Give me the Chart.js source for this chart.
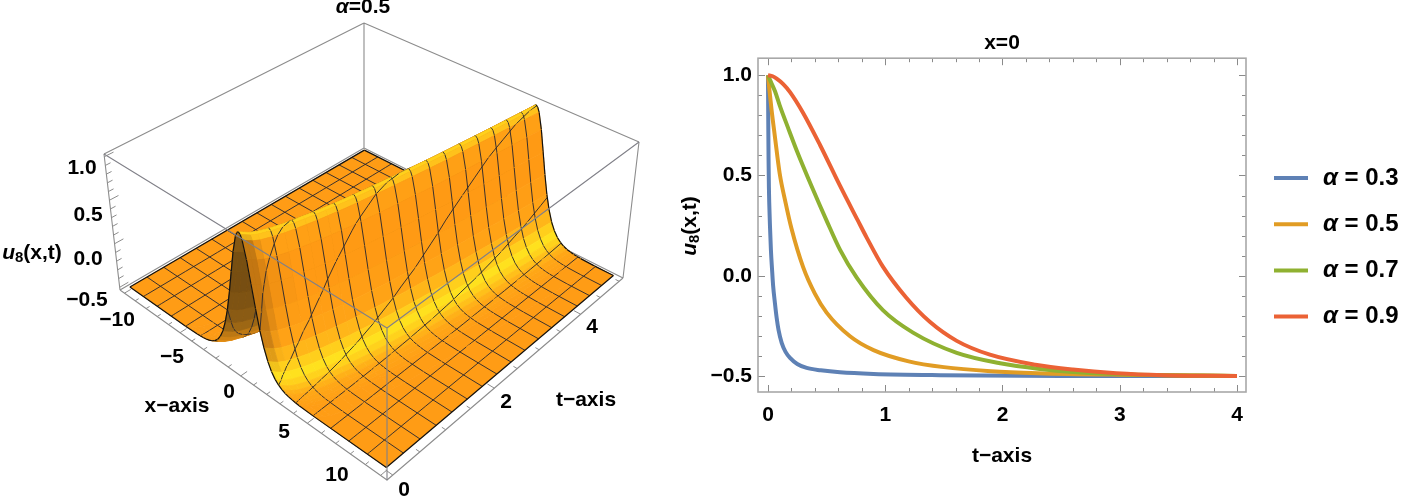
<!DOCTYPE html>
<html lang="en">
<head>
    <meta charset="UTF-8">
    <title>u8(x,t)</title>
    <script src="https://cdn.jsdelivr.net/npm/chart.js"></script>
    <style>
        body { margin: 0; background: #fff; }
        #surfaceChart { position: absolute; left: 0; top: 0; }
        #lineChart { position: absolute; left: 660px; top: 0; }
    </style>
</head>
<body>
    <canvas id="surfaceChart" width="660" height="499"></canvas>
    <canvas id="lineChart" width="741" height="499"></canvas>
    <script>
        // Right panel: curves
        var seriesNames = ['0.3', '0.5', '0.7', '0.9'];
        var seriesColors = ['#5E81B5', '#E19C24', '#8FB131', '#EB6235'];
        var t03 = [0, 0.003, 0.005, 0.008, 0.011, 0.017, 0.025, 0.035, 0.044, 0.06, 0.074, 0.09, 0.117, 0.15, 0.188, 0.25, 0.33, 0.45, 0.614, 0.9, 1.47, 2.5, 4];
        var u03 = [1, 0.73, 0.58, 0.44, 0.36, 0.25, 0.13, 0.03, -0.05, -0.14, -0.21, -0.27, -0.335, -0.38, -0.41, -0.44, -0.46, -0.472, -0.482, -0.49, -0.496, -0.5, -0.5];
        var t05 = [0, 0.01, 0.03, 0.06, 0.1, 0.15, 0.2, 0.3, 0.4, 0.5, 0.7, 0.9, 1.2, 1.5, 1.9, 2.3, 3, 4];
        var u05 = [1, 0.94, 0.83, 0.69, 0.51, 0.365, 0.237, 0.043, -0.089, -0.184, -0.302, -0.371, -0.427, -0.456, -0.476, -0.486, -0.494, -0.5];
        var t07 = [0, 0.03, 0.06, 0.1, 0.17, 0.245, 0.384, 0.5, 0.614, 0.757, 0.98, 1.237, 1.61, 1.98, 2.32, 2.6, 3.09, 4];
        var u07 = [1, 0.96, 0.92, 0.85, 0.74, 0.625, 0.43, 0.275, 0.13, -0.01, -0.172, -0.284, -0.385, -0.437, -0.465, -0.48, -0.493, -0.5];
        var t09 = [0, 0.04, 0.074, 0.13, 0.188, 0.3, 0.444, 0.614, 0.765, 0.842, 0.98, 1.18, 1.38, 1.61, 1.893, 2.28, 2.6, 2.97, 3.37, 4];
        var u09 = [1, 0.995, 0.983, 0.956, 0.916, 0.812, 0.652, 0.449, 0.277, 0.19, 0.045, -0.11, -0.23, -0.325, -0.394, -0.444, -0.468, -0.486, -0.496, -0.5];
        var tTicks = [0, 1, 2, 3, 4];
        var uTicks = [-0.5, 0, 0.5, 1];

        // Left panel: crest position against t, and the crest profile u against distance from it
        var ridgeT = [0, 0.1, 0.25, 0.5, 1, 1.5, 2, 3, 4, 5];
        var ridgeX = [0, 0.52, 0.82, 1.17, 1.65, 2.02, 2.33, 2.86, 3.3, 3.7];
        var profileOffset = [0, 0.125, 0.25, 0.5, 0.75, 1, 1.25, 1.5, 1.75, 2, 2.25, 2.5, 2.75, 3, 3.25, 3.5, 3.75, 4, 5];
        var profileU = [1, 0.982, 0.93, 0.743, 0.498, 0.252, 0.038, -0.125, -0.248, -0.332, -0.39, -0.428, -0.453, -0.47, -0.48, -0.487, -0.492, -0.495, -0.5];

        // Grid rows, and the strip edges as distance from the crest
        var surfaceT = [0, 0.04, 0.08];
        for (var ti = 1; ti <= 32; ti++) surfaceT.push(ti * 0.15625);
        var stripOffset = profileOffset.slice(1).reverse().map(function (v) { return -v; }).concat(profileOffset);
        var stripU = profileU.slice(1).reverse().concat(profileU);
        var meshX = [];
        for (var mi = 1; mi < 16; mi++) meshX.push(-10 + mi * 1.25);

        // Box corners in the picture, order: x=-10 t=0, x=10 t=0, x=10 t=5, x=-10 t=5
        var boxBottom = [[120, 290], [387, 480], [623, 278], [364, 148]];
        var boxTop = [[104, 154], [387, 328], [639, 142], [364, 23]];
        var boxPad = 0.02;

        function quadMap(p) {
            var dx1 = p[1][0] - p[2][0], dx2 = p[3][0] - p[2][0], sx = p[0][0] - p[1][0] + p[2][0] - p[3][0];
            var dy1 = p[1][1] - p[2][1], dy2 = p[3][1] - p[2][1], sy = p[0][1] - p[1][1] + p[2][1] - p[3][1];
            var den = dx1 * dy2 - dx2 * dy1;
            var g = (sx * dy2 - dx2 * sy) / den, h = (dx1 * sy - sx * dy1) / den;
            return function (u, v) {
                var w = g * u + h * v + 1;
                return [((p[1][0] - p[0][0] + g * p[1][0]) * u + (p[3][0] - p[0][0] + h * p[3][0]) * v + p[0][0]) / w,
                        ((p[1][1] - p[0][1] + g * p[1][1]) * u + (p[3][1] - p[0][1] + h * p[3][1]) * v + p[0][1]) / w];
            };
        }
        var mapBottom = quadMap(boxBottom), mapTop = quadMap(boxTop);

        function boxPoint(a, b, c) {
            var p = mapBottom(a, b), q = mapTop(a, b);
            return { x: p[0] + (q[0] - p[0]) * c, y: p[1] + (q[1] - p[1]) * c };
        }
        function project(x, t, u) {
            var s = 1 - 2 * boxPad;
            return boxPoint(boxPad + s * (x + 10) / 20, boxPad + s * t / 5, boxPad + s * (u + 0.5) / 1.5);
        }
        function lookup(xs, ys, v) {
            if (v >= xs[xs.length - 1]) return ys[ys.length - 1];
            for (var i = 1; i < xs.length; i++) {
                if (v <= xs[i]) return ys[i - 1] + (ys[i] - ys[i - 1]) * (v - xs[i - 1]) / (xs[i] - xs[i - 1]);
            }
        }
        function crest(t) { return lookup(ridgeT, ridgeX, t); }

        // Colour against the slope of the wall, yellow on the shallow part like the reference
        var slopeStops = [-8, -3, -0.8, 0, 0.3, 0.7, 1.2, 1.9, 3.2, 7];
        var slopeColors = [[90, 58, 16], [143, 95, 20], [224, 140, 20], [255, 156, 21], [255, 172, 23], [255, 206, 28], [255, 226, 30], [255, 204, 28], [255, 164, 22], [255, 146, 18]];
        function shade(slope, facing) {
            var col = [0, 1, 2].map(function (k) {
                return lookup(slopeStops, slopeColors.map(function (c) { return c[k]; }), Math.max(-8, slope));
            });
            var dark = Math.min(0.45, Math.max(0, (facing - 1.5) / 8));
            var brown = [122, 74, 16];
            return 'rgb(' + col.map(function (c, k) { return Math.round(c + (brown[k] - c) * dark); }).join(',') + ')';
        }
        function isMeshT(t) { return Math.abs(t / 0.3125 - Math.round(t / 0.3125)) < 1e-6; }

        function segment(list, a, b) {
            list.push(a, b, { x: NaN, y: NaN });
        }

        // Painter order: far strips first, inside a strip far rows first. Chart.js paints
        // the last dataset first, so the list gets reversed at the end.
        var painted = [];
        function line3d(pts, color, width) {
            if (pts.length) painted.push({ data: pts, showLine: true, fill: false, borderColor: color, borderWidth: width, borderJoinStyle: 'round' });
        }
        function polygon3d(pts, color) {
            painted.push({ data: pts.concat([pts[0]]), showLine: true, fill: 'shape', backgroundColor: color, borderColor: color, borderWidth: 0.8 });
        }

        var meshColor = 'rgba(38,38,48,0.9)';
        var edgeColor = '#111';

        // constant-x mesh lines inside one row of a strip whose sides run a0..a1 and b0..b1
        function meshAcross(list, a0, a1, b0, b1, uA, uB, t0, t1) {
            meshX.forEach(function (m) {
                var lo = 0, hi = 1;
                if (a1 > a0) hi = Math.min(hi, (m - a0) / (a1 - a0)); else if (m < a0) return;
                if (b1 > b0) lo = Math.max(lo, (m - b0) / (b1 - b0)); else if (m > b0) return;
                if (hi <= lo) return;
                var ends = [lo, hi].map(function (s) {
                    var a = a0 + (a1 - a0) * s, b = b0 + (b1 - b0) * s;
                    return project(m, t0 + (t1 - t0) * s, uA + (uB - uA) * (m - a) / (b - a));
                });
                segment(list, ends[0], ends[1]);
            });
        }

        // one strip piece from row rA to row rB, sides given by edgeA / edgeB (x at t)
        function paintCells(edgeA, edgeB, uA, uB, rA, rB, color) {
            var pts = [], mesh = [], edge = [], r;
            for (r = rA; r <= rB; r++) pts.push(project(edgeA(surfaceT[r]), surfaceT[r], uA));
            for (r = rB; r >= rA; r--) pts.push(project(edgeB(surfaceT[r]), surfaceT[r], uB));
            polygon3d(pts, color);
            for (r = rA; r < rB; r++) {
                var t0 = surfaceT[r], t1 = surfaceT[r + 1];
                meshAcross(mesh, edgeA(t0), edgeA(t1), edgeB(t0), edgeB(t1), uA, uB, t0, t1);
                var top = r + 1 === surfaceT.length - 1;
                if (isMeshT(t1) && !top) segment(mesh, project(edgeA(t1), t1, uA), project(edgeB(t1), t1, uB));
                if (top) segment(edge, project(edgeA(t1), t1, uA), project(edgeB(t1), t1, uB));
                if (r === 0) segment(edge, project(edgeA(t0), t0, uA), project(edgeB(t0), t0, uB));
            }
            line3d(mesh, meshColor, 1);
            line3d(edge, edgeColor, 1.2);
        }

        var lastRow = surfaceT.length - 1;
        var midRow = surfaceT.indexOf(1.09375);
        var bandLeft = stripOffset[0], bandRight = stripOffset[stripOffset.length - 1];

        // far box edges
        var backLines = [];
        segment(backLines, boxPoint(0, 0, 1), boxPoint(0, 1, 1));
        segment(backLines, boxPoint(0, 1, 1), boxPoint(1, 1, 1));
        segment(backLines, boxPoint(0, 1, 0), boxPoint(0, 1, 1));
        segment(backLines, boxPoint(0, 1, 0), boxPoint(1, 1, 0));
        segment(backLines, boxPoint(0, 1, 0), boxPoint(0, 0, 0));
        segment(backLines, boxPoint(1, 0, 0), boxPoint(1, 1, 0));
        segment(backLines, boxPoint(0, 0, 0), boxPoint(1, 0, 0));
        segment(backLines, boxPoint(0, 0, 0), boxPoint(0, 0, 1));
        segment(backLines, boxPoint(1, 1, 0), boxPoint(1, 1, 1));
        line3d(backLines, '#8c8c8c', 1.1);

        // flat part behind the ridge
        paintCells(function () { return -10; }, function (t) { return crest(t) + bandLeft; }, -0.5, -0.5, 0, lastRow, shade(0, 0));
        line3d((function () {
            var e = [];
            segment(e, project(-10, 0, -0.5), project(-10, 5, -0.5));
            return e;
        })(), edgeColor, 1.2);

        // strips that follow the ridge
        stripOffset.slice(0, -1).forEach(function (o0, i) {
            var o1 = stripOffset[i + 1], u0 = stripU[i], u1 = stripU[i + 1];
            var sideA = function (t) { return crest(t) + o0; };
            var sideB = function (t) { return crest(t) + o1; };
            var dudo = (u1 - u0) / (o1 - o0);
            var rowColor = function (rA, rB) {
                var speed = (crest(surfaceT[rB]) - crest(surfaceT[rA])) / (surfaceT[rB] - surfaceT[rA]);
                return shade(-dudo * 5.33, -speed * dudo * 1.33);
            };
            paintCells(sideA, sideB, u0, u1, midRow, lastRow, rowColor(midRow, lastRow));
            for (var r = midRow - 1; r >= 0; r--) paintCells(sideA, sideB, u0, u1, r, r + 1, rowColor(r, r + 1));
        });

        // flat part in front of the ridge
        paintCells(function (t) { return crest(t) + bandRight; }, function () { return 10; }, -0.5, -0.5, 0, lastRow, shade(0, 0));
        line3d((function () {
            var e = [];
            segment(e, project(10, 0, -0.5), project(10, 5, -0.5));
            return e;
        })(), edgeColor, 1.2);

        // near box edges and ticks sit over the surface
        var frontLines = [];
        segment(frontLines, boxPoint(0, 0, 1), boxPoint(1, 0, 1));
        segment(frontLines, boxPoint(1, 0, 1), boxPoint(1, 1, 1));
        segment(frontLines, boxPoint(1, 0, 1), boxPoint(1, 0, 0));
        line3d(frontLines, '#808088', 1.1);

        var tickMarks = [];
        var s3 = 1 - 2 * boxPad;
        for (var k = -10; k <= 10; k++) {
            var ux = boxPad + s3 * (k + 10) / 20;
            segment(tickMarks, boxPoint(ux, 0, 0), boxPoint(ux, k % 5 === 0 ? 0.022 : 0.012, 0));
        }
        for (k = 0; k <= 10; k++) {
            var vt = boxPad + s3 * k / 10;
            segment(tickMarks, boxPoint(1, vt, 0), boxPoint(k % 4 === 0 ? 0.978 : 0.988, vt, 0));
        }
        for (k = -5; k <= 10; k++) {
            var wz = boxPad + s3 * (k + 5) / 15;
            segment(tickMarks, boxPoint(0, 0, wz), boxPoint(0, k % 5 === 0 ? 0.03 : 0.017, wz));
        }
        line3d(tickMarks, '#8c8c8c', 1);

        painted.reverse();

        var fontFamily = '"Liberation Sans", Arial, sans-serif';
        var boldFont = 'bold 21px ' + fontFamily;
        var italicFont = 'italic bold 21px ' + fontFamily;
        var subFont = 'bold 15px ' + fontFamily;

        // mixed italic / subscript text, centred on x,y
        function drawRuns(ctx, runs, x, y, angle) {
            ctx.save();
            ctx.translate(x, y);
            if (angle) ctx.rotate(angle);
            ctx.textBaseline = 'middle';
            ctx.textAlign = 'left';
            ctx.fillStyle = '#000';
            var w = 0;
            runs.forEach(function (r) { ctx.font = r.font; w += ctx.measureText(r.text).width; });
            var pos = -w / 2;
            runs.forEach(function (r) {
                ctx.font = r.font;
                ctx.fillText(r.text, pos, r.dy || 0);
                pos += ctx.measureText(r.text).width;
            });
            ctx.restore();
        }
        function uLabel() {
            return [{ text: 'u', font: italicFont }, { text: '8', font: subFont, dy: 5 }, { text: '(x,t)', font: boldFont }];
        }

        var surfaceLabels = [
            ['\u221210', 117, 320], ['\u22125', 172, 357], ['0', 229, 392], ['5', 284, 432], ['10', 337, 475],
            ['0', 404, 490], ['2', 506, 402], ['4', 592, 327],
            ['1.0', 82, 168], ['0.5', 88, 215], ['0.0', 88, 259], ['\u22120.5', 87, 300],
            ['x\u2212axis', 177, 406], ['t\u2212axis', 586, 400]
        ];
        var surfaceText = {
            id: 'surfaceText',
            afterDraw: function (chart) {
                var ctx = chart.ctx;
                surfaceLabels.forEach(function (l) {
                    drawRuns(ctx, [{ text: l[0], font: boldFont }], l[1], l[2]);
                });
                drawRuns(ctx, uLabel(), 32, 253);
                drawRuns(ctx, [{ text: '\u03b1', font: italicFont }, { text: '=0.5', font: boldFont }], 363, 7);
            }
        };

        new Chart(document.getElementById('surfaceChart'), {
            type: 'scatter',
            data: { datasets: painted },
            plugins: [surfaceText],
            options: {
                responsive: false,
                animation: false,
                layout: { padding: 0 },
                elements: { point: { radius: 0 }, line: { tension: 0 } },
                plugins: { legend: { display: false }, tooltip: { enabled: false } },
                events: [],
                scales: {
                    // suggested bounds: hard min/max make Chart.js cut the unsorted polygons short
                    x: { type: 'linear', display: false, bounds: 'data', suggestedMin: 0, suggestedMax: 660 },
                    y: { type: 'linear', display: false, bounds: 'data', suggestedMin: 0, suggestedMax: 499, reverse: true }
                }
            }
        });

        // ----- right panel -----
        function pairs(xs, ys) {
            return xs.map(function (v, i) { return { x: v, y: ys[i] }; });
        }
        function minusText(v, digits) {
            var s = Math.abs(v).toFixed(digits);
            return v < 0 ? '\u2212' + s : s;
        }
        var curves = [pairs(t03, u03), pairs(t05, u05), pairs(t07, u07), pairs(t09, u09)];

        var frameTicks = {
            id: 'frameTicks',
            beforeDatasetsDraw: function (chart) {
                var ctx = chart.ctx, a = chart.chartArea, sx = chart.scales.x, sy = chart.scales.y;
                ctx.save();
                ctx.strokeStyle = '#8a8a8a';
                ctx.lineWidth = 1;
                ctx.beginPath();
                for (var i = 0; i <= 20; i++) {
                    var px = Math.round(sx.getPixelForValue(i * 0.2)) + 0.5;
                    var lx = i % 5 === 0 ? 7 : 4;
                    ctx.moveTo(px, a.bottom); ctx.lineTo(px, a.bottom - lx);
                    ctx.moveTo(px, a.top); ctx.lineTo(px, a.top + lx);
                }
                for (var j = -5; j <= 10; j++) {
                    var py = Math.round(sy.getPixelForValue(j * 0.1)) + 0.5;
                    var ly = j % 5 === 0 ? 7 : 4;
                    ctx.moveTo(a.left, py); ctx.lineTo(a.left + ly, py);
                    ctx.moveTo(a.right, py); ctx.lineTo(a.right - ly, py);
                }
                ctx.stroke();
                ctx.strokeStyle = '#a8a8a8';
                ctx.lineWidth = 1.6;
                ctx.strokeRect(a.left, a.top, a.right - a.left, a.bottom - a.top);
                ctx.restore();
            },
            afterDraw: function (chart) {
                var ctx = chart.ctx;
                drawRuns(ctx, uLabel(), 30, 226, -Math.PI / 2);
                // legend rows
                seriesNames.forEach(function (name, i) {
                    var y = 178 + i * 46.2;
                    ctx.save();
                    ctx.strokeStyle = seriesColors[i];
                    ctx.lineWidth = 4;
                    ctx.beginPath();
                    ctx.moveTo(614, y);
                    ctx.lineTo(648, y);
                    ctx.stroke();
                    ctx.textBaseline = 'middle';
                    ctx.fillStyle = '#000';
                    ctx.font = 'italic bold 24px ' + fontFamily;
                    ctx.fillText('\u03b1', 663, y);
                    var w = ctx.measureText('\u03b1').width;
                    ctx.font = 'bold 24px ' + fontFamily;
                    ctx.fillText(' = ' + name, 663 + w, y);
                    ctx.restore();
                });
            }
        };

        var tickFont = { family: fontFamily, size: 21, weight: 'bold' };

        new Chart(document.getElementById('lineChart'), {
            type: 'scatter',
            data: {
                datasets: curves.map(function (pts, i) {
                    return {
                        label: '\u03b1 = ' + seriesNames[i],
                        data: pts,
                        showLine: true,
                        borderColor: seriesColors[i],
                        backgroundColor: seriesColors[i],
                        borderWidth: 4,
                        pointRadius: 0,
                        cubicInterpolationMode: 'monotone',
                        order: seriesNames.length - i
                    };
                })
            },
            plugins: [frameTicks],
            options: {
                responsive: false,
                animation: false,
                events: [],
                layout: { padding: { left: 0, right: 155, top: 0, bottom: 0 } },
                plugins: {
                    legend: { display: false },
                    tooltip: { enabled: false },
                    title: {
                        display: true,
                        text: 'x=0',
                        fullSize: false,
                        color: '#000',
                        font: { family: fontFamily, size: 21, weight: 'bold', lineHeight: 1.2 },
                        padding: { top: 31, bottom: 2 }
                    }
                },
                scales: {
                    x: {
                        type: 'linear',
                        min: -0.085,
                        max: 4.077,
                        grid: { display: false, drawTicks: false },
                        border: { display: false },
                        afterBuildTicks: function (scale) { scale.ticks = tTicks.map(function (v) { return { value: v }; }); },
                        afterFit: function (scale) { scale.height = 107; },
                        ticks: {
                            color: '#000',
                            padding: 11,
                            maxRotation: 0,
                            autoSkip: false,
                            font: tickFont,
                            callback: function (v) { return String(v); }
                        },
                        title: {
                            display: true,
                            text: 't\u2212axis',
                            color: '#000',
                            font: tickFont,
                            padding: { top: 0, bottom: 30 }
                        }
                    },
                    y: {
                        type: 'linear',
                        min: -0.58,
                        max: 1.085,
                        grid: { display: false, drawTicks: false },
                        border: { display: false },
                        afterBuildTicks: function (scale) { scale.ticks = uTicks.map(function (v) { return { value: v }; }); },
                        afterFit: function (scale) { scale.width = 98; },
                        ticks: {
                            color: '#000',
                            padding: 6,
                            autoSkip: false,
                            font: tickFont,
                            callback: function (v) { return minusText(v, 1); }
                        }
                    }
                }
            }
        });
    </script>
</body>
</html>
